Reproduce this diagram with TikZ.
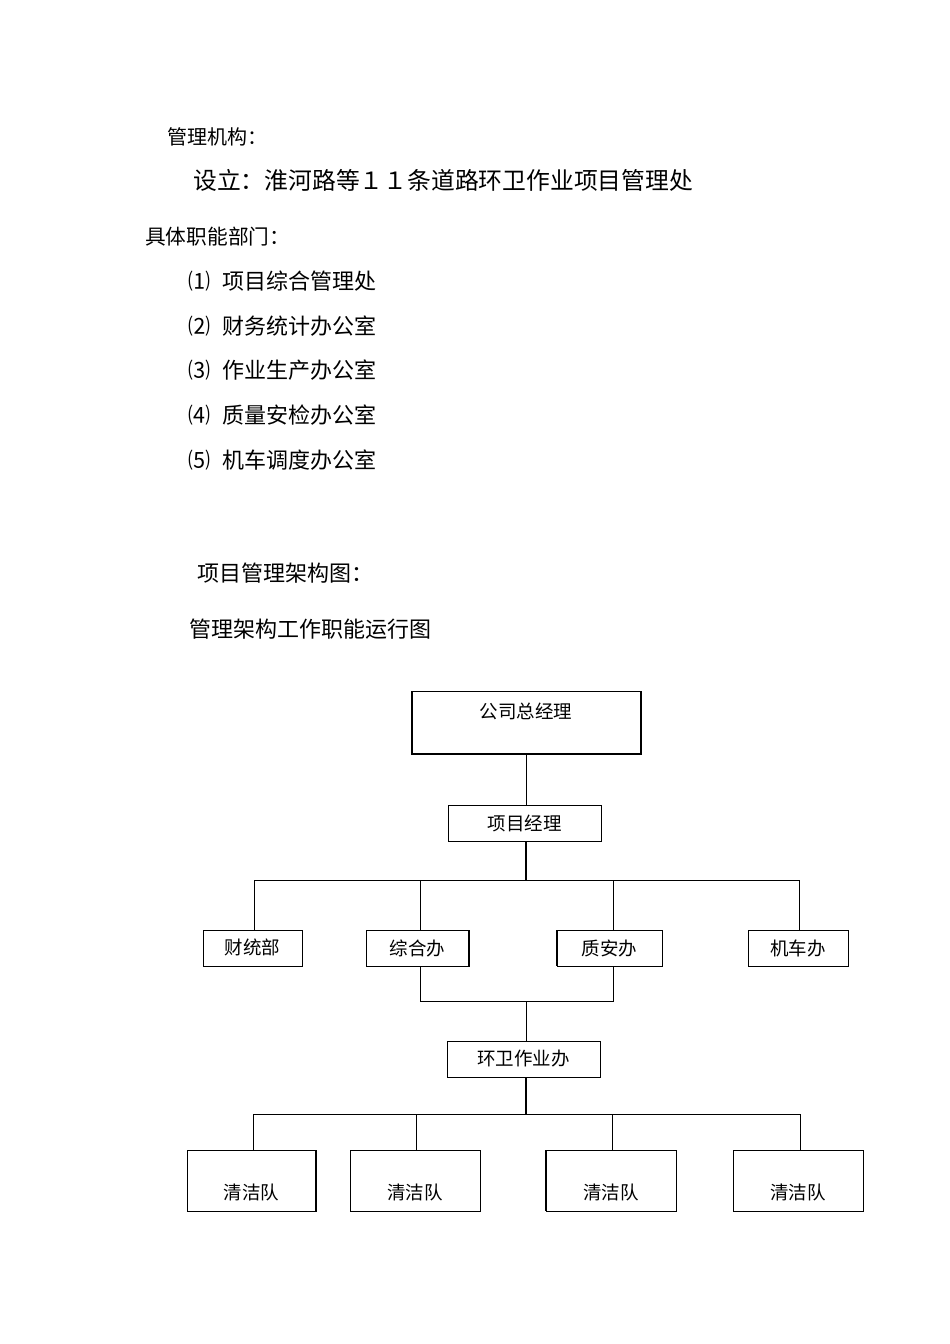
\documentclass[tikz,border=0pt]{standalone}
\usepackage{fontspec}
\newfontfamily\cjk{Noto Sans CJK SC}
\begin{document}
\begin{tikzpicture}[x=1pt,y=-1pt,
  bx/.style={draw,line width=0.8pt,inner sep=0pt},
  ln/.style={line width=0.8pt},
  tx/.style={anchor=west,inner sep=0pt,font=\cjk\fontsize{22}{22}\selectfont},
  lb/.style={inner sep=0pt,font=\cjk\fontsize{18.5}{18.5}\selectfont}]
\useasboundingbox (0,0) rectangle (950,1344);
\node[tx,font=\cjk\fontsize{20}{20}\selectfont] (t1) at (167,137) {管理机构：};
\node[tx,font=\cjk\fontsize{23.8}{23.8}\selectfont] (t2) at (193,180) {设立：淮河路等１１条道路环卫作业项目管理处};
\node[tx,font=\cjk\fontsize{20.7}{20.7}\selectfont] (t3) at (145,237) {具体职能部门：};
\foreach \n/\y/\s in {1/281/⑴,2/326/⑵,3/370/⑶,4/415/⑷,5/460/⑸}{
  \node[tx] (n\n) at (188,\y) {\s};}
\node[tx] (l1) at (222,281) {项目综合管理处};
\node[tx] (l2) at (222,326) {财务统计办公室};
\node[tx] (l3) at (222,370) {作业生产办公室};
\node[tx] (l4) at (222,415) {质量安检办公室};
\node[tx] (l5) at (222,460) {机车调度办公室};
\node[tx] (t4) at (197,573) {项目管理架构图：};
\node[tx] (t5) at (189,629) {管理架构工作职能运行图};
% boxes
\draw[bx] (411,691) rectangle (641,754);
\draw[line width=2pt] (412,691) -- (412,754) -- (641,754) -- (641,691);
\node[lb] (gm) at (526,711) {公司总经理};
\draw[bx] (448,805) rectangle (601,841); \node[lb] (pm) at (524.5,823) {项目经理};
\draw[bx] (203,930) rectangle (302,966); \node[lb] (a) at (252.5,947) {财统部};
\draw[bx] (366,930) rectangle (469,966); \draw[line width=2pt] (469,930)--(469,966); \node[lb] (b) at (417.5,948) {综合办};
\draw[bx] (557,930) rectangle (662,966); \draw[line width=2pt] (557,930)--(557,966); \node[lb] (c) at (609.5,948) {质安办};
\draw[bx] (748,930) rectangle (848,966); \node[lb] (d) at (798,948) {机车办};
\draw[bx] (447,1041) rectangle (600,1077); \node[lb] (e) at (523.5,1059) {环卫作业办};
\foreach \a/\b in {187/316,350/480,546/676,733/863}{
  \draw[bx] (\a,1150) rectangle (\b,1211);
  \node[lb] at ({(\a+\b)/2},1192) {清洁队};}
\draw[line width=2pt] (316,1150)--(316,1211);
\draw[line width=2pt] (546,1150)--(546,1211);
% connectors
\draw[ln] (526,754)--(526,805);
\draw[line width=2pt] (526,841)--(526,880);
\draw[ln] (254,880)--(799,880);
\foreach \x in {254,420,613,799} \draw[ln] (\x,880)--(\x,930);
\draw[ln] (420,966)--(420,1001)--(613,1001)--(613,966);
\draw[ln] (526,1001)--(526,1041);
\draw[line width=2pt] (526,1077)--(526,1114);
\draw[ln] (253,1114)--(800,1114);
\foreach \x in {253,416,612,800} \draw[ln] (\x,1114)--(\x,1150);
\end{tikzpicture}
\end{document}
